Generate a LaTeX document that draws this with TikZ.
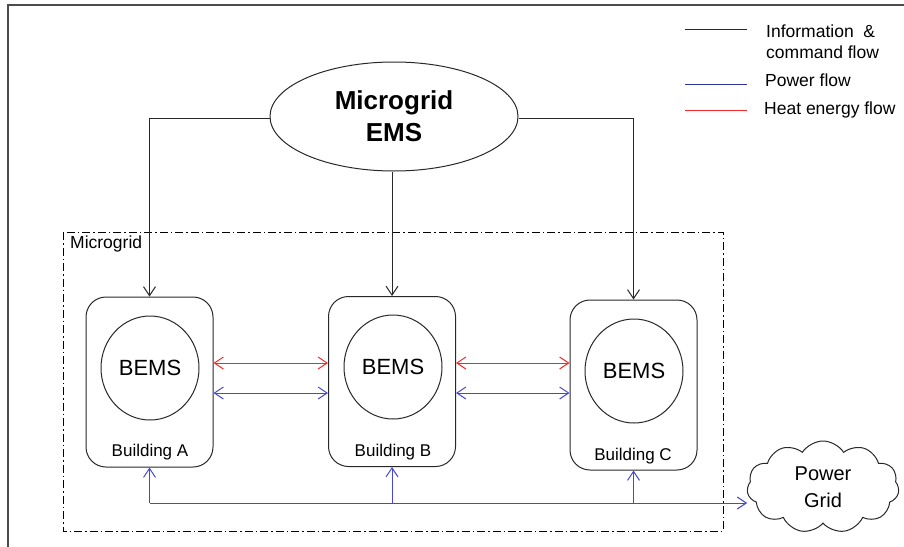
\documentclass[tikz,border=0pt]{standalone}
\usepackage{fontspec}
\setmainfont{Liberation Sans}
\usetikzlibrary{arrows.meta,shapes.geometric,shapes.symbols}
\definecolor{pblue}{RGB}{70,70,215}
\definecolor{hred}{RGB}{245,40,40}
\definecolor{lblue}{RGB}{50,50,160}
\definecolor{lgrey}{RGB}{40,40,40}
\tikzset{
  info/.style={draw=lgrey,line width=1pt},
  powerl/.style={draw=pblue,line width=1pt},
  heatl/.style={draw=hred,line width=1pt},
  tip/.style={-{Straight Barb[length=9pt,width=12pt,line width=1pt]}},
  dtip/.style={{Straight Barb[length=9pt,width=12pt,line width=1pt]}-{Straight Barb[length=9pt,width=12pt,line width=1pt]}},
  bldg/.style={draw=lgrey,line width=1pt,rounded corners=20pt,minimum width=127pt,minimum height=170pt},
  bems/.style={draw=lgrey,line width=1pt,ellipse,minimum width=98pt,minimum height=104pt,inner sep=0pt,font=\fontsize{22}{24}\selectfont},
  lbl/.style={font=\fontsize{17}{19}\selectfont,inner sep=0pt},
  legtxt/.style={font=\fontsize{17.5}{21}\selectfont,inner sep=0pt,anchor=west,align=left}
}
\begin{document}
\begin{tikzpicture}[x=1pt,y=-1pt]
\useasboundingbox (0,0) rectangle (904,546);
% outer frame
\draw[line width=1.4pt,draw=black!70] (8,560) -- (8,5) -- (920,5);
% microgrid box
\draw[line width=1pt,dash pattern=on 8pt off 3pt on 1.5pt off 3pt] (63,232) rectangle (723,531);
\node[lbl,anchor=north west,font=\fontsize{17.5}{19}\selectfont] (mglabel) at (70,236) {Microgrid};
% EMS
\node[draw=lgrey,line width=1pt,ellipse,minimum width=248pt,minimum height=109pt,inner sep=0pt,align=center,font=\bfseries\fontsize{26}{32}\selectfont] (ems) at (394,116.5) {Microgrid\\EMS};
% buildings
\node[bldg] (bA) at (149.5,382) {};
\node[bldg] (bB) at (392,381.5) {};
\node[bldg] (bC) at (633.5,385) {};
\node[bems] (eA) at (150,368) {BEMS};
\node[bems] (eB) at (393,367) {BEMS};
\node[bems] (eC) at (634,371) {BEMS};
\node[lbl] (tA) at (150,452) {Building A};
\node[lbl] (tB) at (393,452) {Building B};
\node[lbl] (tC) at (633,456) {Building C};
% power grid
\node[cloud,draw=lgrey,line width=1pt,cloud puffs=11,cloud puff arc=115,cloud ignores aspect,minimum width=152pt,minimum height=92pt,align=center,font=\fontsize{20}{27}\selectfont] (grid) at (823,487) {Power\\Grid};
% info flow
\coordinate (lvl) at (0,118);
\draw[info,tip] (ems.west |- lvl) -| (bA.north);
\draw[info,tip] (ems.east |- lvl) -| (bC.north);
\draw[info,tip] (ems.south -| bB.north) -- (bB.north);
% horizontal flows
\coordinate (rl) at (0,363);
\coordinate (bl) at (0,393);
\draw[heatl,dtip] (bA.east |- rl) -- (bB.west |- rl);
\draw[powerl,dtip] (bA.east |- bl) -- (bB.west |- bl);
\draw[heatl,dtip] (bB.east |- rl) -- (bC.west |- rl);
\draw[powerl,dtip] (bB.east |- bl) -- (bC.west |- bl);
% bus
\coordinate (bus) at (150,503);
\draw[powerl,tip] (bus) -- (bus -| grid.west);
\draw[powerl,tip] (bA.south |- bus) -- (bA.south);
\draw[powerl,tip] (bB.south |- bus) -- (bB.south);
\draw[powerl,tip] (bC.south |- bus) -- (bC.south);
% legend
\coordinate (lg1) at (685,29);
\coordinate (lg2) at (685,84.5);
\coordinate (lg3) at (685,110.5);
\draw[info] (lg1) -- ++(62,0);
\draw[draw=lblue,line width=1pt] (lg2) -- ++(62,0);
\draw[draw=hred,line width=1.2pt] (lg3) -- ++(62,0);
\node[legtxt] (l1) at (766,42) {Information \ \&\\command flow};
\node[legtxt] (l2) at (765,80) {Power flow};
\node[legtxt] (l3) at (764,110) {Heat energy flow};
\end{tikzpicture}
\end{document}
